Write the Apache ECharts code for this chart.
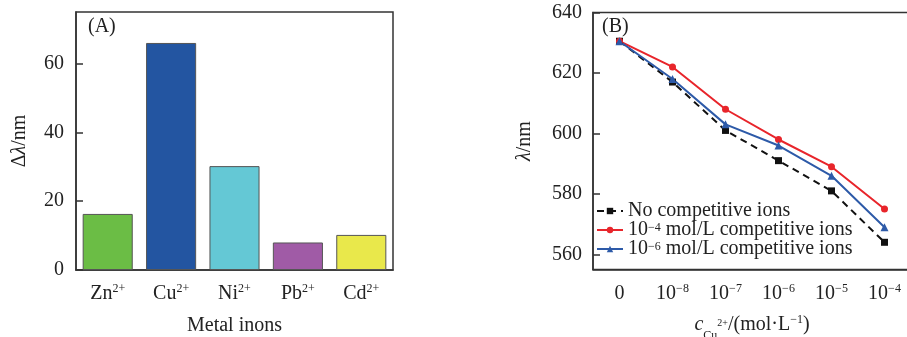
<!DOCTYPE html>
<html><head><meta charset="utf-8">
<script src="https://cdn.jsdelivr.net/npm/echarts@6/dist/echarts.min.js"></script>
<style>html,body{margin:0;padding:0;background:#fff}#c{width:907px;height:337px}</style>
</head><body><div id="c"></div>
<script>
// ---- data ----
const metalIons = ['Zn', 'Cu', 'Ni', 'Pb', 'Cd'];
const deltaLambda = [16.3, 66, 30.2, 8, 10.2];
const barColors = ['#6bbd45', '#2355a1', '#64c8d5', '#a05ba6', '#e9e84b'];
const concExponents = ['0', '-8', '-7', '-6', '-5', '-4'];
const seriesNames = ['No competitive ions', '10^-4 mol/L competitive ions', '10^-6 mol/L competitive ions'];
const noCompetitive = [630.5, 617, 601, 591, 581, 564];
const comp1e4 = [630.5, 622, 608, 598, 589, 575];
const comp1e6 = [630.5, 618, 603, 596, 586, 569];
const yTicksA = [0, 20, 40, 60];
const yTicksB = [560, 580, 600, 620, 640];

const F = 'Liberation Serif';
const C = '#222';
const FS = 20;
const rich = {
  n: {fontSize: FS, fontFamily: F, color: C, lineHeight: 22},
  it: {fontSize: FS, fontFamily: F, color: C, fontStyle: 'italic', lineHeight: 22},
  sup: {fontSize: 12, fontFamily: F, color: C, verticalAlign: 'top', lineHeight: 13}
};
const lineColor = '#333';

function supLabel(s) {
  const m = s.match(/^10\^(-\d+)(.*)$/);
  if (!m) return '{n|' + s + '}';
  return '{n|10}{sup|' + m[1].replace('-', '\u2212') + '}' + (m[2] ? '{n|' + m[2] + '}' : '');
}

const chart = echarts.init(document.getElementById('c'));
chart.setOption({
  animation: false,
  backgroundColor: '#fff',
  grid: [
    {left: 76, right: 514, top: 12, bottom: 67, show: true, borderColor: lineColor, borderWidth: 1.5, containLabel: false, outerBoundsMode: 'none'},
    {left: 593, right: -4, top: 12.5, bottom: 67.5, show: true, borderColor: lineColor, borderWidth: 1.5, containLabel: false, outerBoundsMode: 'none'}
  ],
  graphic: [
    {type: 'text', left: 88, top: 17, style: {text: '(A)', font: '20px "Liberation Serif"', fill: C}},
    {type: 'text', left: 602, top: 17, style: {text: '(B)', font: '20px "Liberation Serif"', fill: C}}
  ],
  xAxis: [
    {
      type: 'category', gridIndex: 0, data: metalIons,
      axisLine: {lineStyle: {color: lineColor, width: 1.5}},
      axisTick: {inside: true, alignWithLabel: true, length: 7, lineStyle: {color: lineColor, width: 1.5}},
      axisLabel: {interval: 0, margin: 13, formatter: v => '{n|' + v + '}{sup|2+}', rich: rich},
      name: 'Metal inons', nameLocation: 'middle', nameGap: 46,
      nameTextStyle: {fontSize: FS, fontFamily: F, color: C}
    },
    {
      type: 'category', gridIndex: 1, data: concExponents,
      axisLine: {lineStyle: {color: lineColor, width: 1.5}},
      axisTick: {inside: true, alignWithLabel: true, length: 7, lineStyle: {color: lineColor, width: 1.5}},
      axisLabel: {interval: 0, margin: 13, formatter: v => v === '0' ? '{n|0}' : '{n|10}{sup|' + v.replace('-', '\u2212') + '}', rich: rich},
      name: '{it|c}{sub|Cu}{sub2|2+}{n|/(mol·L}{sup|\u22121}{n|)}', nameLocation: 'middle', nameGap: 44,
      nameTextStyle: {rich: Object.assign({}, rich, {
        sub: {fontSize: 12, fontFamily: F, color: C, verticalAlign: 'bottom', lineHeight: 10, padding: [0, 0, -6, 0]},
        sub2: {fontSize: 10, fontFamily: F, color: C, verticalAlign: 'middle', lineHeight: 10, padding: [0, 0, 2, 0]}
      })}
    }
  ],
  yAxis: [
    {
      type: 'value', gridIndex: 0, min: 0, max: 75,
      axisLine: {show: true, lineStyle: {color: lineColor, width: 1.5}},
      axisTick: {show: true, inside: true, length: 7, customValues: yTicksA, lineStyle: {color: lineColor, width: 1.5}},
      axisLabel: {margin: 12, customValues: yTicksA, fontSize: FS, fontFamily: F, color: C},
      splitLine: {show: false},
      name: '{n|Δ}{it|λ}{n|/nm}', nameLocation: 'middle', nameGap: 45,
      nameTextStyle: {rich: rich}
    },
    {
      type: 'value', gridIndex: 1, min: 555, max: 640,
      axisLine: {show: true, lineStyle: {color: lineColor, width: 1.5}},
      axisTick: {show: true, inside: true, length: 7, customValues: yTicksB, lineStyle: {color: lineColor, width: 1.5}},
      axisLabel: {margin: 11, customValues: yTicksB, fontSize: FS, fontFamily: F, color: C},
      splitLine: {show: false},
      name: '{it|λ}{n|/nm}', nameLocation: 'middle', nameGap: 57,
      nameTextStyle: {rich: rich}
    }
  ],
  legend: {
    left: 596, top: 201, padding: 0, orient: 'vertical', itemGap: -1, itemWidth: 26, itemHeight: 8,
    data: seriesNames,
    formatter: supLabel,
    textStyle: {rich: Object.assign({}, rich, {
      n: {fontSize: FS, fontFamily: F, color: C, lineHeight: 17},
      sup: {fontSize: 12, fontFamily: F, color: C, verticalAlign: 'top', lineHeight: 5}
    })}
  },
  series: [
    {
      type: 'bar', xAxisIndex: 0, yAxisIndex: 0, barCategoryGap: '21%',
      data: deltaLambda.map((v, i) => ({value: v, itemStyle: {color: barColors[i]}})),
      itemStyle: {borderColor: '#555', borderWidth: 1}
    },
    {
      type: 'line', name: seriesNames[0], xAxisIndex: 1, yAxisIndex: 1, data: noCompetitive,
      symbol: 'rect', symbolSize: 7,
      lineStyle: {color: '#111', width: 2, type: [7, 5]}, itemStyle: {color: '#111'}
    },
    {
      type: 'line', name: seriesNames[1], xAxisIndex: 1, yAxisIndex: 1, data: comp1e4,
      symbol: 'circle', symbolSize: 7,
      lineStyle: {color: '#e8252b', width: 2}, itemStyle: {color: '#e8252b'}
    },
    {
      type: 'line', name: seriesNames[2], xAxisIndex: 1, yAxisIndex: 1, data: comp1e6,
      symbol: 'triangle', symbolSize: 8,
      lineStyle: {color: '#2d5aa8', width: 2}, itemStyle: {color: '#2d5aa8'}
    }
  ]
});
</script>
</body></html>
